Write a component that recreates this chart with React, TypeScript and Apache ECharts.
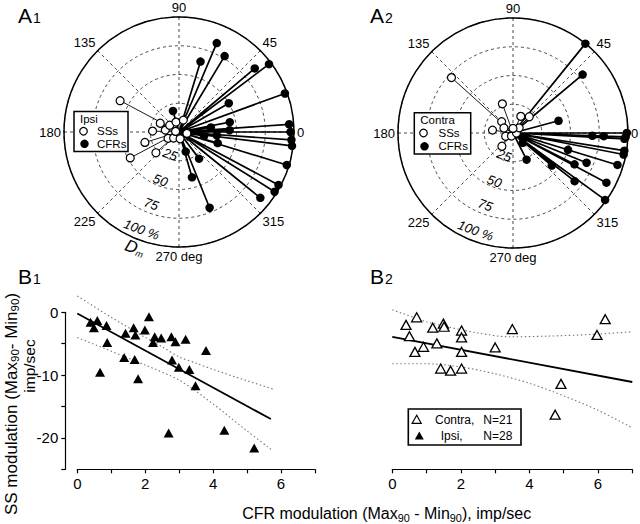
import React, { useEffect, useRef } from 'react';
import * as echarts from 'echarts';

const FONT = '"Liberation Sans", Arial, Helvetica, sans-serif';

// ---- A1 (ipsi) polar data: radius (% Dm) and angle (deg)
const ipsiCfrR = [84, 64, 77, 86, 98, 98, 50, 19, 28, 45, 44, 96, 97, 98, 99, 98, 98, 98, 91, 71, 41, 29, 18, 22, 33, 35];
const ipsiCfrA = [67, 73, 59, 40, 37, 20, 30, 106, 8, 11, 2, 4, 0, 356, 353, 343, 332, 328, 321, 292, 286, 307, 289, 351, 355, 344];
const ipsiSsR = [58, 18, 23, 31, 48, 27, 12, 10, 9, 11, 7, 11, 7, 6, 3];
const ipsiSsA = [152, 155, 178, 197, 208, 222, 172, 144, 107, 70, 350, 210, 228, 279, 170];

// ---- A2 (contra) polar data
const contraCfrR = [100, 79, 41, 99, 98, 97, 79, 69, 98, 98, 95, 92, 99, 69, 60, 50, 44, 68, 26, 12];
const contraCfrA = [51, 40, 15, 0, 358, 357, 358, 358, 351, 349, 343, 332, 324, 338, 333, 343, 320, 322, 297, 315];
const contraSsR = [72, 27, 16, 20, 14, 18, 15, 9, 7, 3, 3, 7, 4];
const contraSsA = [138, 110, 65, 45, 135, 172, 230, 151, 204, 243, 0, 40, 90];

// ring labels
const ringLabels = ['25', '50', '75', '100 %'];
const ringLabelR = [21, 45, 67, 91];
const ringLabelAngle = 249;

// ---- B1 (ipsi) scatter
const ipsiX = [0.39, 0.49, 0.59, 0.86, 0.88, 0.67, 1.42, 1.38, 1.66, 1.71, 1.69, 1.79, 1.99, 2.11, 2.28, 2.23, 2.47, 2.77, 2.89, 2.79, 2.99, 3.19, 3.30, 3.79, 3.48, 2.69, 4.33, 5.21];
const ipsiY = [-1.6, -2.45, -1.3, -2.1, -4.8, -9.55, -3.35, -7.2, -2.45, -3.6, -7.5, -10.6, -2.8, -0.7, -3.9, -4.8, -4.1, -3.9, -4.7, -7.6, -8.75, -4.3, -9.1, -6.1, -11.7, -19.2, -18.8, -21.6];
const ipsiFitX = [0, 5.7];
const ipsiFitY = [-0.2, -17.0];
const ipsiUpperX = [0, 1, 2, 2.5, 3, 3.5, 4, 5, 5.8];
const ipsiUpperY = [2.6, -0.8, -4.0, -5.5, -7.1, -8.1, -9.1, -10.9, -12.3];
const ipsiLowerX = [0, 1, 2, 3, 4, 5, 5.7];
const ipsiLowerY = [-4.0, -6.2, -8.4, -10.8, -14.6, -18.9, -21.8];

// ---- B2 (contra) scatter
const contraX = [0.71, 0.40, 0.50, 0.66, 0.91, 1.18, 1.49, 1.51, 1.30, 1.41, 1.70, 2.02, 2.02, 2.02, 2.02, 3.0, 3.5, 4.92, 4.75, 5.97, 6.21];
const contraY = [-0.8, -2.0, -3.8, -6.3, -5.5, -2.45, -1.8, -2.3, -4.95, -8.96, -9.3, -2.9, -4.0, -6.3, -8.96, -5.6, -2.67, -11.4, -16.3, -3.6, -1.1];
const contraFitX = [0, 7];
const contraFitY = [-3.9, -11.1];
const contraUpperX = [0, 1, 1.6, 2.5, 3.4, 4.5, 5.9, 7];
const contraUpperY = [0.4, -1.5, -2.3, -3.3, -3.9, -3.8, -3.5, -3.1];
const contraLowerX = [0, 1, 2, 3, 4, 5, 6, 7];
const contraLowerY = [-8.2, -8.2, -8.7, -9.8, -11.3, -13.3, -15.6, -18.4];

const pairs = (xs: number[], ys: number[]) => xs.map((x, i) => [x, ys[i]]);
const spokes = (r: number[], a: number[]) => {
  const out: any[] = [];
  r.forEach((rv, i) => {
    out.push([0, a[i]], [rv, a[i]], ['-', '-']);
  });
  return out;
};

const dashed = { color: '#333', width: 0.9, type: [3, 3] as any };

const angleAxis = (idx: number) => ({
  polarIndex: idx,
  type: 'value',
  min: 0,
  max: 360,
  interval: 45,
  startAngle: 0,
  clockwise: false,
  axisLine: { lineStyle: { color: '#000', width: 1.5 } },
  axisTick: { show: false },
  axisLabel: {
    margin: 3,
    color: '#000',
    fontSize: 13,
    fontFamily: FONT,
    formatter: (v: number) => (v === 360 ? '' : v === 270 ? '270 deg' : String(v)),
  },
  splitLine: { show: true, lineStyle: dashed },
});

const radiusAxis = (idx: number) => ({
  polarIndex: idx,
  type: 'value',
  min: 0,
  max: 100,
  interval: 25,
  axisLine: { show: false },
  axisTick: { show: false },
  axisLabel: { show: false },
  splitLine: { show: true, lineStyle: dashed },
});

const polarSeries = (idx: number, cfrR: number[], cfrA: number[], ssR: number[], ssA: number[]) => [
  {
    type: 'line',
    coordinateSystem: 'polar',
    polarIndex: idx,
    data: spokes(cfrR, cfrA),
    showSymbol: false,
    symbol: 'none',
    connectNulls: false,
    lineStyle: { color: '#000', width: 1.7 },
    z: 3,
  },
  {
    type: 'line',
    coordinateSystem: 'polar',
    polarIndex: idx,
    data: spokes(ssR, ssA),
    showSymbol: false,
    symbol: 'none',
    connectNulls: false,
    lineStyle: { color: '#000', width: 0.9 },
    z: 3,
  },
  {
    type: 'scatter',
    coordinateSystem: 'polar',
    polarIndex: idx,
    data: pairs(cfrR, cfrA),
    symbol: 'circle',
    symbolSize: 8.5,
    itemStyle: { color: '#000', opacity: 1 },
    z: 4,
  },
  {
    type: 'scatter',
    coordinateSystem: 'polar',
    polarIndex: idx,
    data: pairs(ssR, ssA),
    symbol: 'circle',
    symbolSize: 8,
    itemStyle: { color: '#fff', borderColor: '#000', borderWidth: 1.2, opacity: 1 },
    z: 5,
  },
  {
    type: 'scatter',
    coordinateSystem: 'polar',
    polarIndex: idx,
    data: ringLabelR.map((r) => [r, ringLabelAngle]),
    symbolSize: 1,
    itemStyle: { color: 'rgba(0,0,0,0)', opacity: 1 },
    silent: true,
    label: {
      show: true,
      position: 'inside',
      rotate: -20,
      color: '#000',
      fontSize: 13,
      fontStyle: 'italic',
      fontFamily: FONT,
      formatter: (p: any) => ringLabels[p.dataIndex],
    },
    z: 6,
  },
];

const xAxisB = (idx: number) => ({
  gridIndex: idx,
  type: 'value',
  min: 0,
  max: 7,
  interval: 1,
  axisLine: { show: true, onZero: false, lineStyle: { color: '#000', width: 1.2 } },
  axisTick: { show: true, length: 4, lineStyle: { color: '#000', width: 1.2 } },
  axisLabel: {
    color: '#000',
    fontSize: 15,
    fontFamily: FONT,
    margin: 7,
    formatter: (v: number) => (v % 2 === 0 ? String(v) : ''),
  },
  splitLine: { show: false },
});

const yAxisB = (idx: number, show: boolean) => ({
  gridIndex: idx,
  type: 'value',
  min: -25,
  max: 0,
  interval: 5,
  show,
  offset: 12,
  axisLine: { show: true, onZero: false, lineStyle: { color: '#000', width: 1.2 } },
  axisTick: { show: true, length: 4, lineStyle: { color: '#000', width: 1.2 } },
  axisLabel: {
    color: '#000',
    fontSize: 15,
    fontFamily: FONT,
    margin: 7,
    formatter: (v: number) => (v % 10 === 0 ? String(v) : ''),
  },
  splitLine: { show: false },
});

const bandStyle = { color: '#777', width: 1.1, type: [1.5, 2.5] as any };

const bSeries = (
  idx: number,
  xs: number[], ys: number[],
  fx: number[], fy: number[],
  ux: number[], uy: number[],
  lx: number[], ly: number[],
  filled: boolean,
) => [
  { type: 'line', xAxisIndex: idx, yAxisIndex: idx, data: pairs(ux, uy), symbol: 'none', smooth: 0.3, clip: false, lineStyle: bandStyle },
  { type: 'line', xAxisIndex: idx, yAxisIndex: idx, data: pairs(lx, ly), symbol: 'none', smooth: 0.3, clip: false, lineStyle: bandStyle },
  { type: 'line', xAxisIndex: idx, yAxisIndex: idx, data: pairs(fx, fy), symbol: 'none', clip: false, lineStyle: { color: '#000', width: 1.8 } },
  {
    type: 'scatter',
    xAxisIndex: idx,
    yAxisIndex: idx,
    data: pairs(xs, ys),
    symbol: 'triangle',
    symbolSize: [10, 9],
    clip: false,
    itemStyle: filled
      ? { color: '#000', opacity: 1 }
      : { color: '#fff', borderColor: '#000', borderWidth: 1.3, opacity: 1 },
    z: 5,
  },
];

const panelLabel = (letter: string, num: string, x: number, y: number) => ({
  type: 'text',
  x,
  y,
  style: {
    text: `{b|${letter}}{s|${num}}`,
    fill: '#000',
    rich: {
      b: { fontSize: 21, fontFamily: FONT, fill: '#000' },
      s: { fontSize: 14, fontFamily: FONT, fill: '#000', padding: [4, 0, 0, 1] },
    },
  },
});

const txt = (text: string, x: number, y: number, size: number, extra: any = {}) => ({
  type: 'text',
  x,
  y,
  style: { text, fontSize: size, lineHeight: size - 1, fontFamily: FONT, fill: '#000', verticalAlign: 'middle', ...extra },
});

const polarLegend = (title: string, bx: number, by: number, w: number, h: number, tx: number, cx: number, y1: number, y2: number, y3: number) => [
  { type: 'rect', shape: { x: bx, y: by, width: w, height: h }, style: { fill: '#fff', stroke: '#000', lineWidth: 1.5 }, z: 20 },
  { ...txt(title, bx + 6, y1, 11.5), z: 21 },
  { type: 'circle', shape: { cx, cy: y2, r: 3.8 }, style: { fill: '#fff', stroke: '#000', lineWidth: 1.2 }, z: 21 },
  { ...txt('SSs', tx, y2, 11.5), z: 21 },
  { type: 'circle', shape: { cx: cx + 1, cy: y3, r: 4.2 }, style: { fill: '#000' }, z: 21 },
  { ...txt('CFRs', tx, y3, 11.5), z: 21 },
];

const subRich = (size: number) => ({
  m: { fontSize: size, fontFamily: FONT, fill: '#000', lineHeight: 20 },
  s: { fontSize: size * 0.68, fontFamily: FONT, fill: '#000', lineHeight: 12, verticalAlign: 'bottom', padding: [0, 0, 0, 0] },
});

export default function App() {
  const ref = useRef<HTMLDivElement>(null);
  useEffect(() => {
    if (!ref.current) return;
    const chart = echarts.init(ref.current, undefined, { renderer: 'svg' });
    const option: any = {
      animation: false,
      backgroundColor: '#fff',
      textStyle: { fontFamily: FONT },
      polar: [
        { center: [179, 132], radius: 115 },
        { center: [513, 133], radius: 115 },
      ],
      angleAxis: [angleAxis(0), angleAxis(1)],
      radiusAxis: [radiusAxis(0), radiusAxis(1)],
      grid: [
        { left: 77.3, top: 312.3, width: 237.7, height: 157, containLabel: false },
        { left: 392.3, top: 312.3, width: 240, height: 157, containLabel: false },
      ],
      xAxis: [xAxisB(0), xAxisB(1)],
      yAxis: [yAxisB(0, true), yAxisB(1, false)],
      series: [
        ...polarSeries(0, ipsiCfrR, ipsiCfrA, ipsiSsR, ipsiSsA),
        ...polarSeries(1, contraCfrR, contraCfrA, contraSsR, contraSsA),
        ...bSeries(0, ipsiX, ipsiY, ipsiFitX, ipsiFitY, ipsiUpperX, ipsiUpperY, ipsiLowerX, ipsiLowerY, true),
        ...bSeries(1, contraX, contraY, contraFitX, contraFitY, contraUpperX, contraUpperY, contraLowerX, contraLowerY, false),
      ],
      graphic: [
        panelLabel('A', '1', 18, 5),
        panelLabel('A', '2', 370, 5),
        panelLabel('B', '1', 18, 266),
        panelLabel('B', '2', 370, 266),
        ...polarLegend('Ipsi', 74, 111.5, 54, 40, 97, 83.5, 118.8, 131.3, 143.8),
        ...polarLegend('Contra', 414.3, 112.7, 56.4, 41.3, 438.5, 423.5, 120, 133, 146.3),
        {
          type: 'text',
          x: 135,
          y: 248,
          rotation: (-20 * Math.PI) / 180,
          style: {
            text: '{d|D}{m|m}',
            align: 'center',
            verticalAlign: 'middle',
            rich: {
              d: { fontSize: 17, fontStyle: 'italic', fontFamily: FONT, fill: '#000' },
              m: { fontSize: 9, fontStyle: 'italic', fontFamily: FONT, fill: '#000', padding: [8, 0, 0, 0] },
            },
          },
        },
        // B2 legend
        { type: 'rect', shape: { x: 408.3, y: 409, width: 112.7, height: 36 }, style: { fill: '#fff', stroke: '#000', lineWidth: 1.6 }, z: 20 },
        { type: 'polygon', shape: { points: [[416.7, 415.3], [412.2, 423.3], [421.2, 423.3]] }, style: { fill: '#fff', stroke: '#000', lineWidth: 1.2 }, z: 21 },
        { ...txt('Contra,', 435, 419.5, 12), z: 21 },
        { ...txt('N=21', 483.3, 419.5, 12), z: 21 },
        { type: 'polygon', shape: { points: [[419.3, 431.5], [414.8, 439.5], [423.8, 439.5]] }, style: { fill: '#000' }, z: 21 },
        { ...txt('Ipsi,', 440.7, 435.8, 12), z: 21 },
        { ...txt('N=28', 483.3, 435.8, 12), z: 21 },
        // axis titles
        {
          type: 'text',
          x: 386.7,
          y: 513,
          style: {
            text: '{m|CFR modulation (Max}{s|90}{m| - Min}{s|90}{m|), imp/sec}',
            align: 'center',
            verticalAlign: 'middle',
            rich: subRich(16),
          },
        },
        {
          type: 'text',
          x: 11,
          y: 404,
          rotation: Math.PI / 2,
          style: {
            text: '{m|SS modulation (Max}{s|90}{m|- Min}{s|90}{m|)}',
            align: 'center',
            verticalAlign: 'middle',
            rich: subRich(17),
          },
        },
        {
          type: 'text',
          x: 29,
          y: 366,
          rotation: Math.PI / 2,
          style: {
            text: 'imp/sec',
            fontSize: 15.5,
            fontFamily: FONT,
            fill: '#000',
            align: 'center',
            verticalAlign: 'middle',
          },
        },
      ],
    };
    chart.setOption(option);
    return () => chart.dispose();
  }, []);
  return <div ref={ref} style={{ position: 'absolute', left: 0, top: 0, width: 640, height: 524 }} />;
}
